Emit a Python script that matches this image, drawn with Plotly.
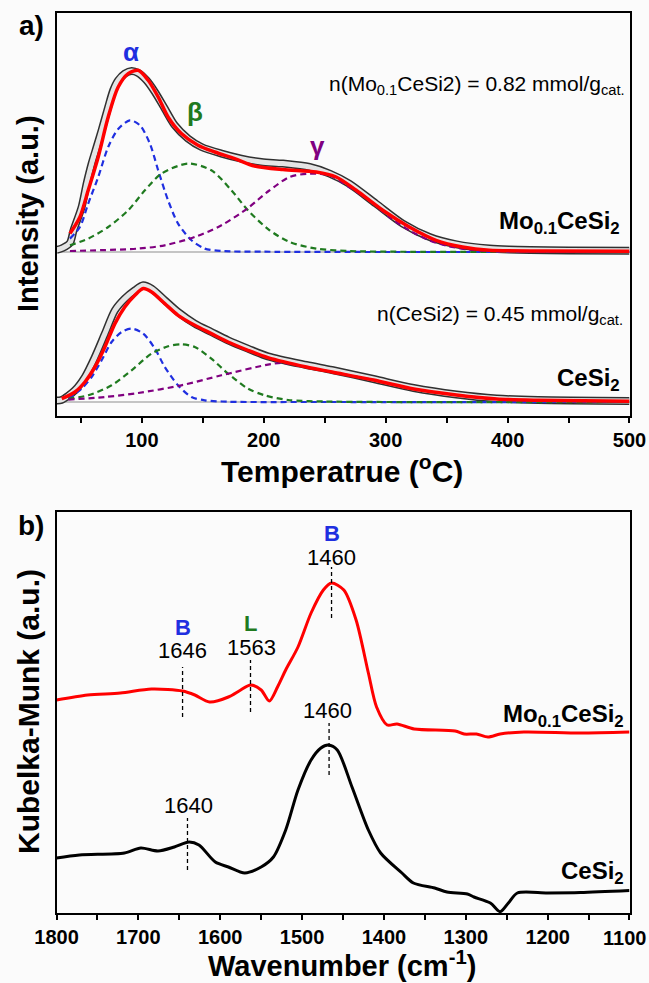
import plotly.graph_objects as go

# ---------------- Panel a) TPD profiles (heights above each baseline) ----------------
MO_EXP_T = [30, 35, 41, 44, 50.6, 54.7, 58.8, 62.9, 67, 72.4, 76.5, 80.6, 86, 91.6, 97, 103.8, 110.7,
            118.8, 127, 137.9, 148.9, 165.3, 181.6, 198, 215.7, 237.6, 254, 270, 292, 314, 336, 358,
            385, 401, 450, 500]
MO_EXP = [2, 4, 9, 21.7, 45, 68.4, 88.4, 105, 121.7, 145, 161.7, 171.7, 178.4, 181, 179, 171.7, 160,
          143.4, 126.7, 113.4, 105, 98.4, 93.4, 90, 88.4, 85, 78.4, 68.4, 48.4, 28.4, 15, 7.7,
          3.4, 2.4, 1.5, 1.2]

MO_FIT_T = [41, 49.2, 56, 64.2, 72.4, 80.6, 88.8, 97, 105.2, 113.4, 121.5, 132.4, 146, 159.8, 176.2,
            192.5, 215.7, 243, 259.4, 275.8, 297.6, 319.4, 341.3, 363, 385, 430, 500]
MO_FIT = [18.4, 35, 61.7, 95, 135, 165, 178.4, 181.7, 171.7, 155, 135, 118.4, 106.7, 100, 93.4,
          86, 82.4, 80, 75, 61.7, 41.7, 25, 11.7, 5, 1.7, 1, 0.7]

MO_ALPHA_T = [41, 49.2, 56, 64.2, 72.4, 80.6, 90.2, 98.4, 106.6, 113.4, 121.5, 129.7, 140.7, 151.6,
              165.3, 200, 300, 400, 500]
MO_ALPHA = [13.4, 25, 48.4, 75, 105, 123, 131.7, 126.7, 108.4, 81.7, 51.7, 28.4, 11.7, 3.4,
            1, 0.3, 0, 0, 0]

MO_BETA_T = [41, 56, 72.4, 88.8, 102.5, 116.1, 137.9, 157, 173.5, 187, 204.8, 221.2, 243, 270, 320,
             400, 500]
MO_BETA = [6.7, 13.4, 25, 41.7, 61.7, 78.4, 88.4, 81.7, 61.7, 41.7, 21.7, 10, 3.4, 1, 0.2, 0, 0]

MO_GAMMA_T = [41, 97, 118.8, 143.4, 165.3, 187, 204, 221.2, 237.6, 254, 270, 286.7, 303, 319.4,
              335.8, 352, 374, 420, 500]
MO_GAMMA = [1, 3.4, 6.7, 15, 26.7, 44, 61, 75, 78.4, 76.7, 65, 51.7, 35, 21.7, 11.7, 5.7, 1.7, 0.3, 0]

CE_EXP_T = [30, 34, 45, 53.3, 61.5, 69.7, 77.9, 86, 94.3, 101.1, 108, 118.8, 129.7, 143.4, 157,
            170.7, 187, 203.4, 235, 256, 290, 323, 358, 391, 425, 500]
CE_EXP = [1.5, 2, 11.7, 25, 45, 68.4, 91.7, 103.4, 111.7, 116.7, 113.4, 101.7, 90, 78.4, 70,
          61.7, 53.4, 45.7, 37, 32, 23, 14, 7.5, 3.5, 2, 1]

CE_FIT_T = [34.3, 45.1, 53.3, 61.5, 69.7, 77.9, 86, 94.3, 101.1, 108, 118.8, 129.7, 143.4, 157,
            170.7, 187, 203.4, 235, 256, 290, 323, 358, 391, 425, 500]
CE_FIT = [3.4, 10, 20, 35, 55, 78.4, 95, 106.7, 113.4, 110, 98.4, 86.7, 76.7, 68.4,
          60, 51.7, 44.4, 35, 30, 22, 13, 7, 3, 1.7, 0.7]

CE_ALPHA_T = [39.7, 50.6, 58.8, 67, 75.2, 83.4, 91.6, 101.1, 110.7, 118.8, 129.7, 140.7, 151.6, 170,
              250, 500]
CE_ALPHA = [3.4, 13.4, 25, 41.7, 60, 70, 73.4, 68.4, 53.4, 35, 16.7, 5, 1.7, 0.3, 0, 0]

CE_BETA_T = [39.7, 56, 75.2, 91.6, 108, 121.5, 132.4, 143.4, 157, 170.7, 187, 200.7, 220, 250, 300,
             500]
CE_BETA = [3.4, 6.7, 16.7, 31.7, 48.4, 55.7, 57.7, 55, 43.4, 28.4, 13.4, 6.7, 2, 0.5, 0, 0]

CE_GAMMA_T = [39.7, 69.7, 97, 132.4, 165.3, 203.4, 215, 235, 256, 290, 323, 358, 391, 425, 500]
CE_GAMMA = [2.4, 5, 9, 16.7, 26.7, 37.4, 39, 35, 30, 22, 13, 7, 3, 1.5, 0.5]

MO_OFFSET = 150
CE_OFFSET = 0

# ---------------- Panel b) DRIFTS pyridine spectra ----------------
MO_IR_W = [1800, 1762, 1722, 1684, 1646, 1631, 1613, 1590, 1575, 1563, 1550, 1540, 1530, 1520, 1505,
           1489, 1474, 1464, 1449, 1434, 1419, 1409, 1396, 1384, 1363, 1313, 1302, 1287, 1273, 1258,
           1229, 1160, 1100]
MO_IR = [213, 218, 220, 224, 222, 218, 211, 216, 223, 228, 223, 212, 226, 243, 266,
         300, 323, 330, 323, 293, 240, 206, 188, 189, 184, 182, 179, 179, 176, 179,
         181, 180, 181]

CE_IR_W = [1800, 1772, 1717, 1697, 1676, 1656, 1638, 1626, 1606, 1590, 1570, 1550, 1535, 1520, 1505,
           1489, 1477, 1468, 1457, 1439, 1419, 1404, 1378, 1364, 1338, 1323, 1298, 1290, 1270, 1258,
           1248, 1237, 1200, 1160, 1100]
CE_IR = [55, 58, 60, 65, 62, 66, 71, 68, 51, 46, 40, 46, 56, 83, 123,
         153, 165, 168, 163, 126, 83, 60, 40, 30, 25, 21, 19, 16, 10, 1.3,
         10, 20, 20, 20.4, 22.4]

MARK_W = [1646, 1563, 1464, 1467, 1640]
MARK_LO = [196, 201, 295, 138, 43]
MARK_HI = [246, 253, 346, 190, 95]

PEAK_LABELS = ["1646", "1563", "1460", "1460", "1640"]
ACID_LABELS = ["B", "L", "B"]
ACID_W = [1646, 1563, 1464]

TOP_TICKS = [100, 200, 300, 400, 500]
BOT_TICKS = [1800, 1700, 1600, 1500, 1400, 1300, 1200, 1100]

# ---------------- styling ----------------
W, H = 649, 983
FONT = "Arial, Liberation Sans, sans-serif"
RED = "#ff0000"
BLUE = "#1f2fe0"
GREEN = "#1f7a1f"
PURPLE = "#800080"
BG = "#fbfbfb"


def px_x(p):
    return p / W


def px_y(p):
    return 1 - p / H


fig = go.Figure()


def add_top(x, y, off, **kw):
    fig.add_trace(go.Scatter(x=x, y=[v + off for v in y], xaxis="x", yaxis="y",
                             mode="lines", showlegend=False, hoverinfo="skip", **kw))


# baselines
for off in (MO_OFFSET, CE_OFFSET):
    fig.add_trace(go.Scatter(x=[30, 500], y=[off, off], xaxis="x", yaxis="y", mode="lines",
                             line=dict(color="#c4c4c4", width=2), showlegend=False, hoverinfo="skip"))

# experimental circles (dense) rendered as a hollow band
for (t, v, off) in ((MO_EXP_T, MO_EXP, MO_OFFSET), (CE_EXP_T, CE_EXP, CE_OFFSET)):
    add_top(t, v, off, line=dict(color="#303030", width=8, shape="spline", smoothing=0.8))
    add_top(t, v, off, line=dict(color="#e4e4e4", width=5, shape="spline", smoothing=0.8))

dash = "6px,4px"
for (t, v, off, c) in ((MO_ALPHA_T, MO_ALPHA, MO_OFFSET, BLUE), (MO_BETA_T, MO_BETA, MO_OFFSET, GREEN),
                       (MO_GAMMA_T, MO_GAMMA, MO_OFFSET, PURPLE),
                       (CE_ALPHA_T, CE_ALPHA, CE_OFFSET, BLUE), (CE_BETA_T, CE_BETA, CE_OFFSET, GREEN),
                       (CE_GAMMA_T, CE_GAMMA, CE_OFFSET, PURPLE)):
    add_top(t, v, off, line=dict(color=c, width=2.2, dash=dash, shape="spline", smoothing=0.8))

for (t, v, off) in ((MO_FIT_T, MO_FIT, MO_OFFSET), (CE_FIT_T, CE_FIT, CE_OFFSET)):
    add_top(t, v, off, line=dict(color=RED, width=3.5, shape="spline", smoothing=0.8))

# bottom spectra
fig.add_trace(go.Scatter(x=MO_IR_W, y=MO_IR, xaxis="x2", yaxis="y2", mode="lines",
                         line=dict(color=RED, width=3, shape="spline", smoothing=0.8),
                         showlegend=False, hoverinfo="skip"))
fig.add_trace(go.Scatter(x=CE_IR_W, y=CE_IR, xaxis="x2", yaxis="y2", mode="lines",
                         line=dict(color="black", width=3, shape="spline", smoothing=0.8),
                         showlegend=False, hoverinfo="skip"))
for w, lo, hi in zip(MARK_W, MARK_LO, MARK_HI):
    fig.add_trace(go.Scatter(x=[w, w], y=[lo, hi], xaxis="x2", yaxis="y2", mode="lines",
                             line=dict(color="black", width=1.3, dash="4px,3px"),
                             showlegend=False, hoverinfo="skip"))

ann = []


def text(x, y, s, size, color="black", xref="paper", yref="paper", xanchor="center",
         yanchor="middle", angle=0, bold=False):
    ann.append(dict(x=x, y=y, xref=xref, yref=yref, text=(f"<b>{s}</b>" if bold else s),
                    showarrow=False, xanchor=xanchor, yanchor=yanchor, textangle=angle,
                    font=dict(family=FONT, size=size, color=color)))


# panel a labels
text(91, 350, "α", 26, BLUE, "x", "y", bold=True)
text(143.4, 290, "β", 26, GREEN, "x", "y", bold=True)
text(244.4, 256, "γ", 26, PURPLE, "x", "y", bold=True)
text(498, 317, "n(Mo<sub>0.1</sub>CeSi2) = 0.82 mmol/g<sub>cat.</sub>", 21, "black", "x", "y",
     xanchor="right")
text(496, 87, "n(CeSi2) = 0.45 mmol/g<sub>cat.</sub>", 21, "black", "x", "y", xanchor="right")
text(494, 180, "Mo<sub>0.1</sub>CeSi<sub>2</sub>", 24, "black", "x", "y", xanchor="right", bold=True)
text(494, 23, "CeSi<sub>2</sub>", 24, "black", "x", "y", xanchor="right", bold=True)

# panel b labels
for s, w, col, yy in zip(ACID_LABELS, ACID_W, (BLUE, GREEN, BLUE), (286, 290, 380)):
    text(w, yy, s, 22, col, "x2", "y2", bold=True)
for s, w, yy in zip(PEAK_LABELS, (1646, 1562, 1464, 1469, 1639), (263, 266, 356, 203, 108)):
    text(w, yy, s, 22, "black", "x2", "y2")
text(1104, 198, "Mo<sub>0.1</sub>CeSi<sub>2</sub>", 24, "black", "x2", "y2", xanchor="right", bold=True)
text(1104, 41, "CeSi<sub>2</sub>", 24, "black", "x2", "y2", xanchor="right", bold=True)

# axis titles and panel letters
text(px_x(342), px_y(469), "Temperatrue (<sup>o</sup>C)", 30, bold=True)
text(px_x(342), px_y(964), "Wavenumber (cm<sup>-1</sup>)", 29, bold=True)
text(px_x(28), px_y(214), "Intensity (a.u.)", 29, angle=-90, bold=True)
text(px_x(28), px_y(712), "Kubelka-Munk (a.u.)", 30, angle=-90, bold=True)
text(px_x(31), px_y(26), "a)", 28, bold=True)
text(px_x(31), px_y(525), "b)", 28, bold=True)

# last bottom tick label, kept just inside the right page edge
bot_text = [str(v) for v in BOT_TICKS]
last_label = bot_text[-1]
bot_text[-1] = ""
text(px_x(648), px_y(938), last_label, 20, xanchor="right", bold=True)

xdom = [px_x(56.5), px_x(629.5)]
common_x = dict(showline=True, linecolor="black", linewidth=1.5, mirror=True, showgrid=False,
                zeroline=False, ticks="outside", ticklen=5, tickwidth=1.5, tickcolor="black",
                automargin=False, ticklabeloverflow="allow",
                tickfont=dict(family=FONT, size=20, color="black", weight="bold"),
                minor=dict(ticks="outside", ticklen=5, tickwidth=1.5, tickcolor="black", dtick=50))
common_y = dict(showline=True, linecolor="black", linewidth=1.5, mirror=True, showgrid=False,
                zeroline=False, showticklabels=False, ticks="", automargin=False)

fig.update_layout(
    width=W, height=H, margin=dict(l=0, r=0, t=0, b=0, autoexpand=False),
    paper_bgcolor=BG, plot_bgcolor=BG, showlegend=False,
    xaxis=dict(domain=xdom, range=[29.99, 500.01], tickvals=TOP_TICKS, anchor="y", **common_x),
    yaxis=dict(domain=[px_y(416), px_y(13)], range=[-14, 389], anchor="x", **common_y),
    xaxis2=dict(domain=xdom, range=[1800.01, 1099.99], tickvals=BOT_TICKS, ticktext=bot_text,
                anchor="y2", **common_x),
    yaxis2=dict(domain=[px_y(913), px_y(512)], range=[0, 401], anchor="x2", **common_y),
    annotations=ann,
)

fig.write_html("out.html", config={"displayModeBar": False},
               post_script="document.body.style.margin='0';document.body.style.overflow='hidden';")
